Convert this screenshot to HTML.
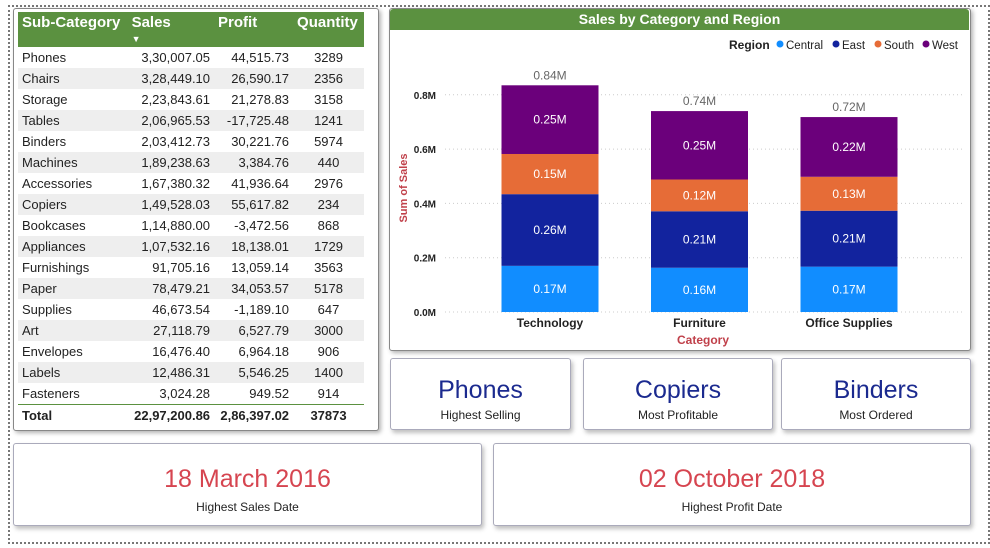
<!DOCTYPE html>
<html><head><meta charset="utf-8"><style>
body{margin:0;width:990px;height:548px;background:#fff;font-family:"Liberation Sans",sans-serif;position:relative;overflow:hidden}
.abs{position:absolute}
.panel{position:absolute;background:#fff;border:1px solid #888;border-radius:3px;box-shadow:2px 2px 4px rgba(0,0,0,.3)}
table{border-collapse:collapse;font-size:13px;position:absolute;left:18px;top:12px;width:346px}
th{background:#5b9140;color:#fff;font-weight:bold;text-align:left;height:29px;padding:0 4px;font-size:15px;vertical-align:top;padding-top:3px;line-height:15px}
td{height:21px;padding:0 4px;color:#222;line-height:15px}
tr:nth-child(even) td{background:#eeeeee}
td.n{text-align:right}
.card{position:absolute;background:#fff;border:1px solid #aab;border-radius:3px;box-shadow:2px 3px 4px rgba(0,0,0,.25);text-align:center}
.big{color:#1b2a8f;font-size:25px;margin-top:17px}
.sm{font-size:12px;color:#222;margin-top:3px}
.red{color:#d64550;font-size:25px;margin-top:21px}
</style></head><body>
<div class="abs" style="left:8px;top:5px;width:978px;height:535px;border:2px dotted #777"></div>
<div class="panel" style="left:13px;top:8px;width:364px;height:421px">
</div>
<table>
<tr><th>Sub-Category</th><th>Sales<br><span style="font-size:9px">▼</span></th><th>Profit</th><th>Quantity</th></tr>
<tbody id="tb"></tbody>
<tr><td style="font-weight:bold;border-top:1px solid #5b9140;background:#fff">Total</td><td class="n" style="font-weight:bold;border-top:1px solid #5b9140;background:#fff">22,97,200.86</td><td class="n" style="font-weight:bold;border-top:1px solid #5b9140;background:#fff">2,86,397.02</td><td class="n" style="font-weight:bold;border-top:1px solid #5b9140;background:#fff;text-align:center">37873</td></tr>
</table>
<div class="panel" style="left:389px;top:8px;width:580px;height:341px"></div>
<div class="abs" style="left:390px;top:9px;width:579px;height:21px;background:#5b9140;color:#fff;font-weight:bold;font-size:14px;text-align:center;line-height:21px;border-radius:3px 3px 0 0">Sales by Category and Region</div>
<svg id="ch" class="abs" style="left:0;top:0" width="990" height="548"></svg>
<div class="card" style="left:390px;top:358px;width:179px;height:70px"><div class="big">Phones</div><div class="sm">Highest Selling</div></div>
<div class="card" style="left:583px;top:358px;width:188px;height:70px"><div class="big">Copiers</div><div class="sm">Most Profitable</div></div>
<div class="card" style="left:781px;top:358px;width:188px;height:70px"><div class="big">Binders</div><div class="sm">Most Ordered</div></div>
<div class="card" style="left:13px;top:443px;width:467px;height:81px"><div class="red">18 March 2016</div><div class="sm" style="margin-top:6px">Highest Sales Date</div></div>
<div class="card" style="left:493px;top:443px;width:476px;height:81px"><div class="red">02 October 2018</div><div class="sm" style="margin-top:6px">Highest Profit Date</div></div>
<script>
const rows=[["Phones","3,30,007.05","44,515.73","3289"],["Chairs","3,28,449.10","26,590.17","2356"],["Storage","2,23,843.61","21,278.83","3158"],["Tables","2,06,965.53","-17,725.48","1241"],["Binders","2,03,412.73","30,221.76","5974"],["Machines","1,89,238.63","3,384.76","440"],["Accessories","1,67,380.32","41,936.64","2976"],["Copiers","1,49,528.03","55,617.82","234"],["Bookcases","1,14,880.00","-3,472.56","868"],["Appliances","1,07,532.16","18,138.01","1729"],["Furnishings","91,705.16","13,059.14","3563"],["Paper","78,479.21","34,053.57","5178"],["Supplies","46,673.54","-1,189.10","647"],["Art","27,118.79","6,527.79","3000"],["Envelopes","16,476.40","6,964.18","906"],["Labels","12,486.31","5,546.25","1400"],["Fasteners","3,024.28","949.52","914"]];
const tb=document.getElementById('tb');
rows.forEach(r=>{const tr=document.createElement('tr');


tr.innerHTML=`<td>${r[0]}</td><td class="n">${r[1]}</td><td class="n">${r[2]}</td><td class="n" style="text-align:center">${r[3]}</td>`;tb.appendChild(tr);});

const categories=["Technology","Furniture","Office Supplies"];
const regions=["Central","East","South","West"];
const central=[0.170,0.163,0.167];
const east=[0.264,0.208,0.206];
const south=[0.148,0.117,0.125];
const west=[0.253,0.252,0.220];
const ticks=[0,0.2,0.4,0.6,0.8];
const colors=["#118DFF","#12239E","#E66C37","#6B007B"];
const NS="http://www.w3.org/2000/svg",svg=document.getElementById('ch');
function el(t,a,txt){const e=document.createElementNS(NS,t);for(const k in a)e.setAttribute(k,a[k]);if(txt!==undefined)e.textContent=txt;svg.appendChild(e);return e;}
const y=v=>312-v*271.5, x=i=>550+i*149.5, bw=97;
ticks.forEach(t=>{const g=el('line',{x1:445,x2:965,y1:y(t),y2:y(t),stroke:'#ccc','stroke-dasharray':'1,3'});
const l=el('text',{x:436,y:y(t)+4,'text-anchor':'end','font-size':10,'font-weight':'bold',fill:'#222'},t.toFixed(1)+'M');});
const yt=el('text',{x:407,y:188,'text-anchor':'middle','font-size':11,'font-weight':'bold',fill:'#c0404a',transform:'rotate(-90 407 188)'},'Sum of Sales');
const xt=el('text',{x:703,y:344,'text-anchor':'middle','font-size':12,'font-weight':'bold',fill:'#c0404a'},'Category');
const series=[central,east,south,west];
categories.forEach((c,i)=>{let base=0;
series.forEach((s,k)=>{const v=s[i];const r=el('rect',{x:x(i)-bw/2,y:y(base+v),width:bw,height:y(base)-y(base+v),fill:colors[k]});


const lt=el('text',{x:x(i),y:(y(base)+y(base+v))/2+4,'text-anchor':'middle','font-size':12,fill:'#fff'},v.toFixed(2)+'M');


base+=v;});
const tl=el('text',{x:x(i),y:y(base)-6,'text-anchor':'middle','font-size':12,fill:'#666'},base.toFixed(2)+'M');


const cl=el('text',{x:x(i),y:327,'text-anchor':'middle','font-size':12,'font-weight':'bold',fill:'#222'},c);

});
const lg=el('text',{x:729,y:49,'font-size':12,'font-weight':'bold',fill:'#222'},'Region');
const lx=[780,836,878,926];
regions.forEach((r,k)=>{const c=el('circle',{cx:lx[k],cy:44,r:3.5,fill:colors[k]});
const t=el('text',{x:lx[k]+6,y:49,'font-size':11.5,fill:'#222'},r);});
</script>
</body></html>
